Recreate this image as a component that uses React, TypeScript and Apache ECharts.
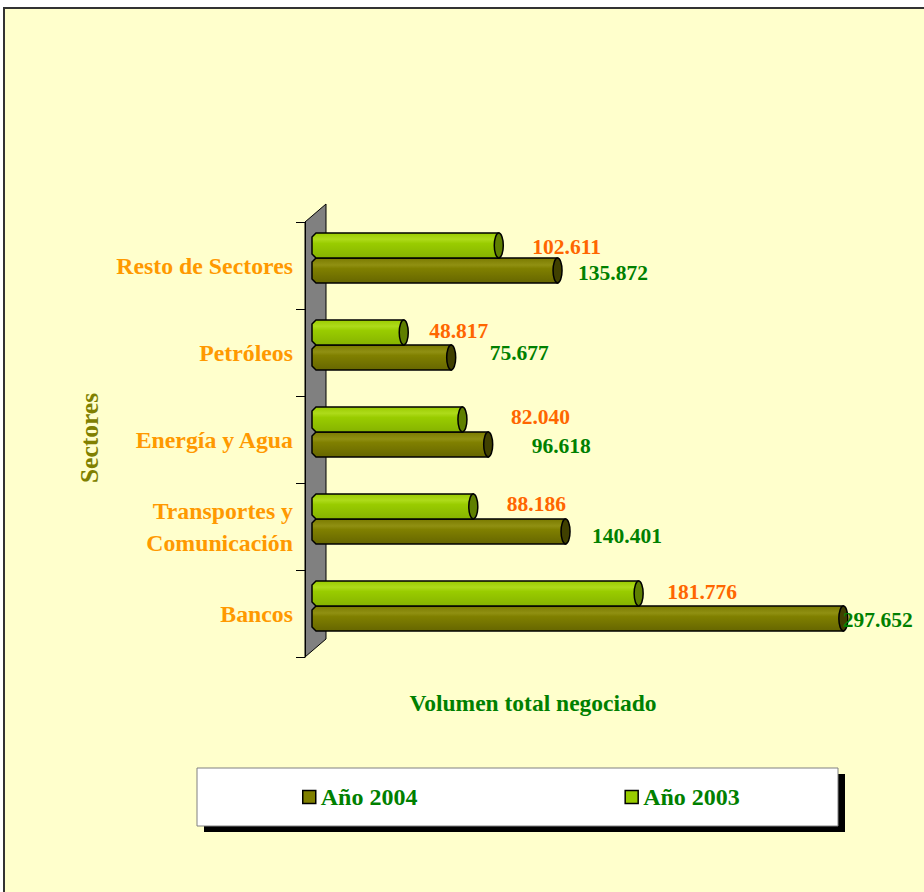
import React, { useEffect, useRef } from "react";
import * as echarts from "echarts";

// ---------- data ----------
const CATEGORIES = [
  "Bancos",
  "Transportes y\nComunicación",
  "Energía y Agua",
  "Petróleos",
  "Resto de Sectores",
];
const SERIES_2004 = "Año 2004";
const SERIES_2003 = "Año 2003";
const VOL_2004 = [297652, 140401, 96618, 75677, 135872];
const VOL_2003 = [181776, 88186, 82040, 48817, 102611];
const X_MAX = 300000;

// label nudges (px) relative to the bar end, per category (bottom to top)
const LABEL_SHIFT_2003 = [[24, -2], [29, -3], [44, -3], [21, -2], [29, 1]];
const LABEL_SHIFT_2004 = [[-5, 1], [22, 4], [39, 1], [34, -5], [16, 2]];

// ---------- layout / style ----------
const FONT = "'Liberation Serif', 'Times New Roman', serif";
const BAR_GRID = { left: 322, top: 214.5, width: 530, height: 435 };
const AXIS_GRID = { left: 305, top: 222, width: 10, height: 435 };
const WALL_DX = 21;
const WALL_DY = -18;
const BAR_H = 25;
const BAR_START_BACK = 10;

const fmt = (n: number) => String(n).replace(/\B(?=(\d{3})+(?!\d))/g, ".");

function makeRender(
  upper: boolean,
  stops: { offset: number; color: string }[],
  capColor: string,
  labelColor: string,
  shifts: number[][]
) {
  return (params: any, api: any) => {
    const v = api.value(0);
    const idx = api.value(1);
    const end = api.coord([v, idx]);
    const zero = api.coord([0, idx]);
    const c = end[1];
    const y0 = upper ? c - BAR_H : c;
    const y1 = y0 + BAR_H;
    const xs = zero[0] - BAR_START_BACK;
    const xe = end[0];
    const rx = 4.5;
    const xb = xe - rx;
    const ch = 4;
    const sh = shifts[params.dataIndex] || [20, 0];
    return {
      type: "group",
      children: [
        {
          type: "polygon",
          shape: {
            points: [
              [xs + ch, y0],
              [xb, y0],
              [xb, y1],
              [xs + ch, y1],
              [xs, y1 - ch],
              [xs, y0 + ch],
            ],
          },
          style: {
            fill: new echarts.graphic.LinearGradient(0, 0, 0, 1, stops),
            stroke: "#000",
            lineWidth: 1.5,
          },
        },
        {
          type: "ellipse",
          shape: { cx: xb, cy: (y0 + y1) / 2, rx: rx, ry: BAR_H / 2 },
          style: { fill: capColor, stroke: "#000", lineWidth: 1.5 },
        },
        {
          type: "text",
          style: {
            text: fmt(v),
            x: xe + sh[0],
            y: (y0 + y1) / 2 + sh[1],
            fill: labelColor,
            font: `bold 21.5px ${FONT}`,
            align: "left",
            verticalAlign: "middle",
          },
        },
      ],
    };
  };
}

export default function App() {
  const ref = useRef<HTMLDivElement>(null);

  useEffect(() => {
    if (!ref.current) return;
    const chart = echarts.init(ref.current, undefined, { renderer: "svg" });

    const wallPts = [
      [AXIS_GRID.left, AXIS_GRID.top],
      [AXIS_GRID.left + WALL_DX, AXIS_GRID.top + WALL_DY],
      [AXIS_GRID.left + WALL_DX, AXIS_GRID.top + AXIS_GRID.height + WALL_DY],
      [AXIS_GRID.left, AXIS_GRID.top + AXIS_GRID.height],
    ];

    const option: any = {
      animation: false,
      backgroundColor: "transparent",
      grid: [
        { ...BAR_GRID, containLabel: false },
        { ...AXIS_GRID, containLabel: false },
      ],
      xAxis: [
        { type: "value", gridIndex: 0, min: 0, max: X_MAX, show: false },
        { type: "value", gridIndex: 1, show: false },
      ],
      yAxis: [
        { type: "category", gridIndex: 0, data: CATEGORIES, show: false },
        {
          type: "category",
          gridIndex: 1,
          data: CATEGORIES,
          axisLine: { show: true, lineStyle: { color: "#000", width: 1 } },
          axisTick: { show: true, length: 9, lineStyle: { color: "#000", width: 1 } },
          axisLabel: {
            color: "#FF9900",
            fontFamily: FONT,
            fontWeight: "bold",
            fontSize: 23.8,
            margin: 12,
            lineHeight: 32,
          },
          splitLine: { show: false },
        },
      ],
      legend: {
        data: [SERIES_2004, SERIES_2003],
        left: 297,
        top: 780,
        orient: "horizontal",
        itemWidth: 13,
        itemHeight: 13,
        itemGap: 207,
        itemTextGap: 7,
        selectedMode: false,
        icon: "rect",
        itemStyle: { borderColor: "#000", borderWidth: 1.5 },
        textStyle: {
          color: "#008000",
          fontFamily: FONT,
          fontWeight: "bold",
          fontSize: 24,
        },
      },
      graphic: [
        {
          type: "polygon",
          z: 0,
          shape: { points: wallPts },
          style: { fill: "#808080", stroke: "#000", lineWidth: 1 },
        },
        {
          type: "text",
          x: 533,
          y: 703,
          style: {
            text: "Volumen total negociado",
            fill: "#008000",
            font: `bold 23.5px ${FONT}`,
            align: "center",
            verticalAlign: "middle",
          },
        },
        {
          type: "text",
          x: 89,
          y: 438,
          rotation: Math.PI / 2,
          style: {
            text: "Sectores",
            fill: "#808000",
            font: `bold 25.5px ${FONT}`,
            align: "center",
            verticalAlign: "middle",
          },
        },
        {
          type: "rect",
          z: 0,
          shape: { x: 204, y: 774, width: 641, height: 58 },
          style: { fill: "#000" },
        },
        {
          type: "rect",
          z: 1,
          shape: { x: 197, y: 768, width: 641, height: 58 },
          style: { fill: "#FFFFFF", stroke: "#808080", lineWidth: 1 },
        },
      ],
      series: [
        {
          name: SERIES_2004,
          type: "custom",
          xAxisIndex: 0,
          yAxisIndex: 0,
          itemStyle: { color: "#808000" },
          renderItem: makeRender(
            false,
            [
              { offset: 0, color: "#7A7A00" },
              { offset: 0.28, color: "#909012" },
              { offset: 0.42, color: "#808000" },
              { offset: 1, color: "#666600" },
            ],
            "#404000",
            "#008000",
            LABEL_SHIFT_2004
          ),
          data: VOL_2004.map((v, i) => [v, i]),
        },
        {
          name: SERIES_2003,
          type: "custom",
          xAxisIndex: 0,
          yAxisIndex: 0,
          itemStyle: { color: "#99CC00" },
          renderItem: makeRender(
            true,
            [
              { offset: 0, color: "#9ACB00" },
              { offset: 0.25, color: "#AEDB1A" },
              { offset: 0.42, color: "#99CC00" },
              { offset: 1, color: "#86B300" },
            ],
            "#5F7F00",
            "#FF6600",
            LABEL_SHIFT_2003
          ),
          data: VOL_2003.map((v, i) => [v, i]),
        },
      ],
    };

    chart.setOption(option);
    return () => chart.dispose();
  }, []);

  return (
    <div
      style={{
        position: "fixed",
        left: 0,
        top: 0,
        width: 924,
        height: 892,
        background: "#FFFFFF",
        overflow: "hidden",
      }}
    >
      <div
        style={{
          position: "absolute",
          left: 3,
          top: 7,
          width: 940,
          height: 900,
          boxSizing: "border-box",
          background: "#FFFFCC",
          borderLeft: "2px solid #333333",
          borderTop: "2px solid #333333",
        }}
      />
      <div
        ref={ref}
        style={{ position: "absolute", left: 0, top: 0, width: 924, height: 892 }}
      />
    </div>
  );
}
